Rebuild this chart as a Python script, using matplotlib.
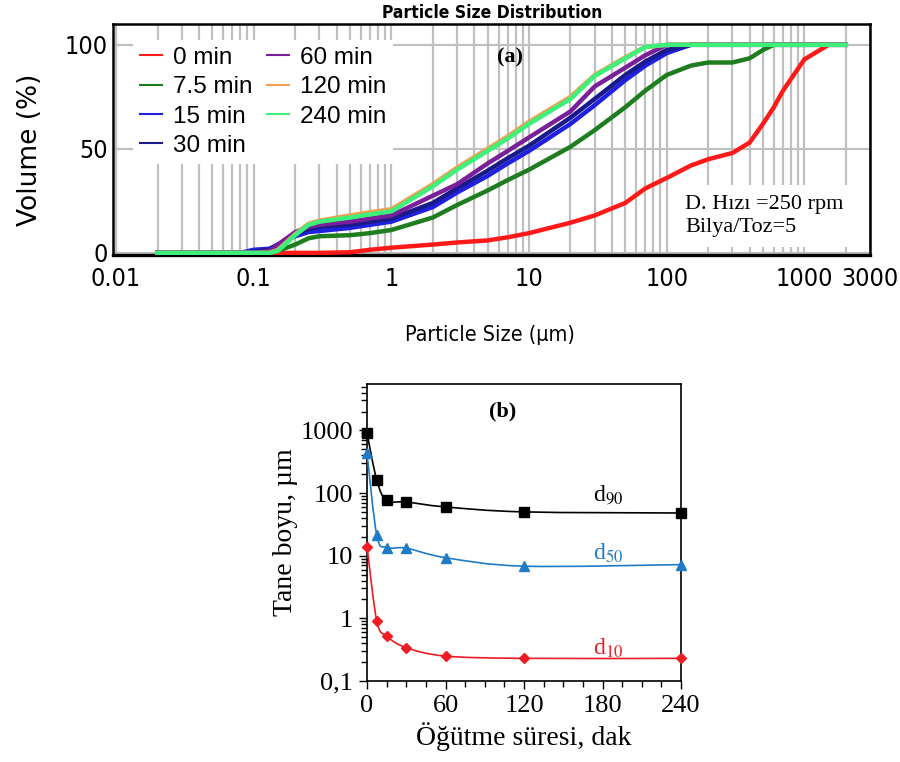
import numpy as np
import matplotlib
matplotlib.use("Agg")
import matplotlib.pyplot as plt
from matplotlib.path import Path
from matplotlib.patches import PathPatch
from matplotlib.ticker import FixedLocator, LogLocator, MultipleLocator, NullFormatter

plt.rcParams['mathtext.fontset'] = 'stix'

NARROW = ['DejaVu Sans']
SERIF = ['Liberation Serif', 'DejaVu Serif']

# ---- panel (a): cumulative particle size distribution ----
sizes = [0.02, 0.08, 0.1, 0.13, 0.15, 0.2, 0.25, 0.3, 0.5, 0.7, 1, 2, 3, 5, 7, 10,
         20, 30, 50, 70, 100, 150, 200, 300, 400, 500, 600, 700, 1000, 1500, 2000]
vol_0 = [0, 0, 0, 0, 0, 0, 0, 0, 0.3, 1.5, 2.5, 4, 5, 6, 7.5, 9.5,
         14.5, 18, 24, 31, 36, 42, 45, 48, 53, 62, 70, 78, 93, 100, 100]
vol_7_5 = [0, 0, 0, 0, 1, 4, 7, 8, 8.5, 9.5, 11, 17, 23, 30, 35, 40,
           51, 59, 70, 78, 85.5, 90, 91.5, 91.5, 93.5, 97.5, 100, 100, 100, 100, 100]
vol_15 = [0, 0, 1.5, 2, 4, 8, 10, 10.5, 12, 13.5, 15, 22, 29, 37, 43, 49,
          62, 71, 83, 90, 96, 100, 100, 100, 100, 100, 100, 100, 100, 100, 100]
vol_30 = [0, 0, 0.5, 1.5, 4, 9, 11.5, 12.5, 13.5, 15, 16.5, 24, 31, 39.5, 45.5, 51.5,
          65, 74, 85.5, 92, 97.5, 100, 100, 100, 100, 100, 100, 100, 100, 100, 100]
vol_60 = [0, 0, 0, 1, 4, 10, 12.5, 13.5, 15, 16.5, 18, 27.5, 33, 43, 49, 55.5,
          68, 80, 89, 95, 100, 100, 100, 100, 100, 100, 100, 100, 100, 100, 100]
vol_120 = [0, 0, 0, 0, 1.5, 9, 14, 15.5, 18, 19.5, 21, 33, 41, 50, 56, 63,
           75, 85.5, 94, 99, 100, 100, 100, 100, 100, 100, 100, 100, 100, 100, 100]
vol_240 = [0, 0, 0, 0, 1, 8.5, 13.5, 15, 17, 18.5, 20, 32, 40, 49, 55, 62,
           74, 85, 93.5, 99, 100, 100, 100, 100, 100, 100, 100, 100, 100, 100, 100]

labels_a = ['0 min', '7.5 min', '15 min', '30 min', '60 min', '120 min', '240 min']
colors_a = ['#ff1a1a', '#1e7d1e', '#2020e0', '#1a1a8a', '#7a1f9a', '#f0a050', '#3cf07a']
series_a = [vol_0, vol_7_5, vol_15, vol_30, vol_60, vol_120, vol_240]

xticks_a = [0.01, 0.1, 1, 10, 100, 1000, 3000]
xticklabels_a = ['0.01', '0.1', '1', '10', '100', '1000', '3000']

# ---- panel (b): d10 / d50 / d90 vs milling time ----
time_min = [0, 7.5, 15, 30, 60, 120, 240]
d90 = [900, 160, 76, 72, 60, 50, 48]
d50 = [430, 21, 13.5, 13.2, 9.3, 6.8, 7.2]
d10 = [14, 0.9, 0.52, 0.34, 0.25, 0.23, 0.23]


def smooth_path(x, y):
    # Excel-style smoothed line: Catmull-Rom -> cubic Bezier in (x, log y)
    px = np.asarray(x, float)
    py = np.log10(np.asarray(y, float))
    n = len(px)
    verts = [(px[0], py[0])]
    codes = [Path.MOVETO]
    for i in range(n - 1):
        a = max(i - 1, 0)
        b = min(i + 2, n - 1)
        c1 = (px[i] + (px[i + 1] - px[a]) / 6, py[i] + (py[i + 1] - py[a]) / 6)
        c2 = (px[i + 1] - (px[b] - px[i]) / 6, py[i + 1] - (py[b] - py[i]) / 6)
        verts += [c1, c2, (px[i + 1], py[i + 1])]
        codes += [Path.CURVE4] * 3
    verts = [(vx, 10 ** vy) for vx, vy in verts]
    return Path(verts, codes)


fig = plt.figure(figsize=(9, 7.62), dpi=100)

# ================= (a) =================
ax = fig.add_axes([0.1256, 0.6654, 0.8411, 0.3031])
for vals, lab, col in zip(series_a, labels_a, colors_a):
    ax.plot(sizes, vals, color=col, lw=3.2, label=lab, zorder=3)
ax.set_xscale('log')
ax.set_xlim(0.0095, 3000)
ax.set_ylim(-1, 110)
ax.xaxis.set_major_locator(FixedLocator(xticks_a))
ax.set_xticklabels(xticklabels_a)
ax.xaxis.set_minor_locator(LogLocator(base=10, subs=np.arange(2, 10), numticks=20))
ax.xaxis.set_minor_formatter(NullFormatter())
ax.set_yticks([0, 50, 100])
ax.grid(True, which='both', axis='x', color='#c0c0c0', lw=1.6, zorder=1)
ax.grid(True, which='major', axis='y', color='#c0c0c0', lw=1.6, zorder=1)
ax.set_axisbelow(True)
ax.tick_params(axis='both', which='both', length=0)
ax.tick_params(axis='x', pad=9)
ax.tick_params(axis='y', pad=4)
for t in ax.get_xticklabels() + ax.get_yticklabels():
    t.set_family(NARROW)
    t.set_stretch('condensed')
    t.set_fontsize(18)
for s in ax.spines.values():
    s.set_color('black')
    s.set_linewidth(1.8)
ax.spines['bottom'].set_linewidth(2.4)

ax.set_xlabel('Particle Size (µm)', family=NARROW, fontstretch='condensed', fontsize=15.5)
ax.xaxis.set_label_coords(0.498, -0.303)
ax.set_ylabel('Volume (%)', family='DejaVu Sans', fontsize=19)
ax.yaxis.set_label_coords(-0.092, 0.455)

leg = ax.legend(ncol=2, loc='upper left', bbox_to_anchor=(0.01, 0.985),
                prop={'family': ['Liberation Sans', 'DejaVu Sans'], 'size': 17.5},
                handlelength=0.9, handletextpad=0.45, columnspacing=0.6,
                labelspacing=0.3, borderpad=0.3, frameon=True, fancybox=False,
                framealpha=1, edgecolor='none', facecolor='white')
leg.set_zorder(5)
for h in leg.legend_handles:
    h.set_linewidth(1.5)

ax.text(0.524, 0.857, '(a)', transform=ax.transAxes, ha='center', va='center',
        family=SERIF, fontweight='bold', fontsize=16, zorder=6)
ax.text(0.756, 0.169, 'D. Hızı =250 rpm\nBilya/Toz=5', transform=ax.transAxes,
        ha='left', va='center', family=SERIF, fontsize=16, linespacing=1.25,
        bbox=dict(facecolor='white', edgecolor='none', boxstyle='square,pad=0.45'),
        zorder=6)

fig.text(492 / 900, 1 - 13 / 762, 'Particle Size Distribution', ha='center', va='center',
         family=NARROW, fontstretch='condensed', fontweight='bold', fontsize=12.5)

# ================= (b) =================
bx = fig.add_axes([0.4078, 0.1063, 0.3489, 0.3898])
for vals, col, mk, ms in [(d90, 'black', 's', 6.5), (d50, '#1f7bc6', '^', 6.5), (d10, '#ee1c24', 'D', 5)]:
    bx.add_patch(PathPatch(smooth_path(time_min, vals), fill=False, edgecolor=col, lw=1.2, zorder=3))
    bx.plot(time_min, vals, ls='none', marker=mk, ms=ms, color=col, zorder=4, clip_on=False)
bx.set_yscale('log')
bx.set_xlim(0, 240)
bx.set_ylim(0.1, 5500)
bx.set_xticks([0, 60, 120, 180, 240])
bx.xaxis.set_minor_locator(MultipleLocator(15))
bx.set_yticks([0.1, 1, 10, 100, 1000])
bx.set_yticklabels(['0,1', '1', '10', '100', '1000'])
bx.yaxis.set_minor_locator(LogLocator(base=10, subs=np.arange(2, 10), numticks=20))
bx.yaxis.set_minor_formatter(NullFormatter())
bx.tick_params(axis='both', which='major', direction='out', length=6, width=1, pad=4)
bx.tick_params(axis='both', which='minor', direction='out', length=4, width=1)
for t in bx.get_xticklabels() + bx.get_yticklabels():
    t.set_family(SERIF)
    t.set_fontsize(19)
for s in bx.spines.values():
    s.set_linewidth(1.2)
bx.set_xlabel('Öğütme süresi, dak', family=SERIF, fontsize=20, labelpad=4)
bx.set_ylabel('Tane boyu, µm', family=SERIF, fontsize=20, labelpad=2)

bx.text(0.433, 0.906, '(b)', transform=bx.transAxes, ha='center', va='center',
        family=SERIF, fontweight='bold', fontsize=16)
bx.text(0.72, 0.626, r'd$_{90}$', transform=bx.transAxes, ha='left', va='center',
        family=SERIF, fontsize=17, color='black')
bx.text(0.72, 0.431, r'd$_{50}$', transform=bx.transAxes, ha='left', va='center',
        family=SERIF, fontsize=17, color='#1f7bc6')
bx.text(0.72, 0.111, r'd$_{10}$', transform=bx.transAxes, ha='left', va='center',
        family=SERIF, fontsize=17, color='#ee1c24')

fig.savefig('out.png', dpi=100)
